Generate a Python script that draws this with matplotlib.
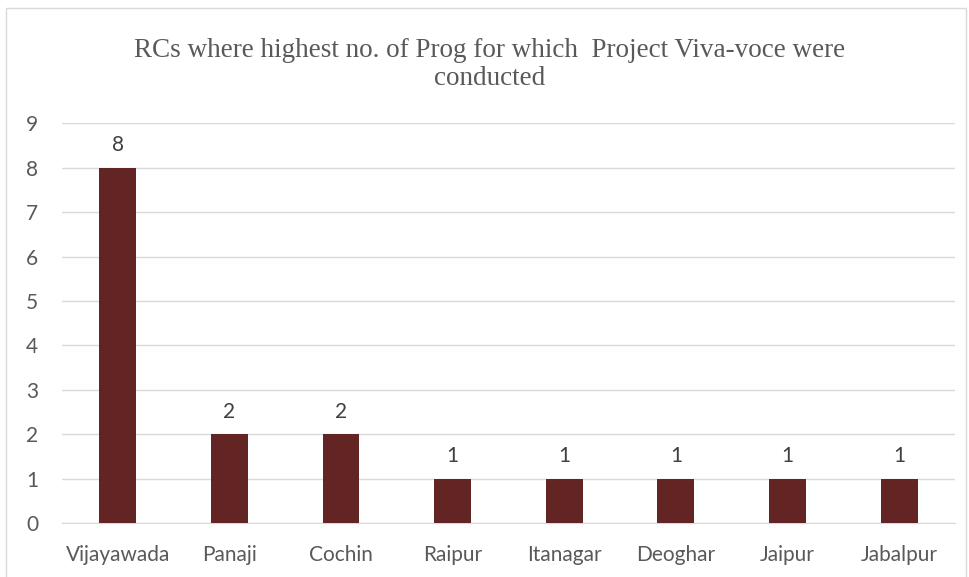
import matplotlib.pyplot as plt
from matplotlib.patches import Rectangle

centres = ['Vijayawada', 'Panaji', 'Cochin', 'Raipur', 'Itanagar', 'Deoghar', 'Jaipur', 'Jabalpur']
counts = [8, 2, 2, 1, 1, 1, 1, 1]

bar_color = '#632523'
text_color = '#595959'

fig = plt.figure(figsize=(9.7, 5.77), dpi=100)
ax = fig.add_axes([0.0639, 0.0936, 0.9206, 0.6924])

x = range(len(centres))
bars = ax.bar(x, counts, width=0.33, color=bar_color, zorder=3)
for b, v in zip(bars, counts):
    ax.text(b.get_x() + b.get_width() / 2, v + 0.28, str(v), ha='center', va='bottom',
            fontsize=15, color='#404040', family='Lato')

ax.set_xlim(-0.5, len(centres) - 0.5)
ax.set_ylim(0, 9)
ax.set_yticks(range(10))
ax.set_xticks(list(x))
ax.set_xticklabels(centres)
ax.yaxis.grid(True, color='#d9d9d9', linewidth=1, zorder=0)
for s in ['top', 'right', 'left']:
    ax.spines[s].set_visible(False)
ax.spines['bottom'].set_color('#d9d9d9')
ax.tick_params(length=0, labelsize=15, labelcolor=text_color)
ax.tick_params(axis='x', pad=16)
ax.tick_params(axis='y', pad=17)
for lab in ax.get_xticklabels() + ax.get_yticklabels():
    lab.set_family('Lato')

fig.text(0.505, 0.888, 'RCs where highest no. of Prog for which  Project Viva-voce were\nconducted',
         ha='center', va='center', fontsize=19.5, color=text_color,
         family='Liberation Serif', linespacing=1.12)

fig.patches.append(Rectangle((0.006, -0.01), 0.99, 0.997, transform=fig.transFigure,
                             fill=False, edgecolor='#d9d9d9', linewidth=1))

fig.savefig('out.png', dpi=100)
